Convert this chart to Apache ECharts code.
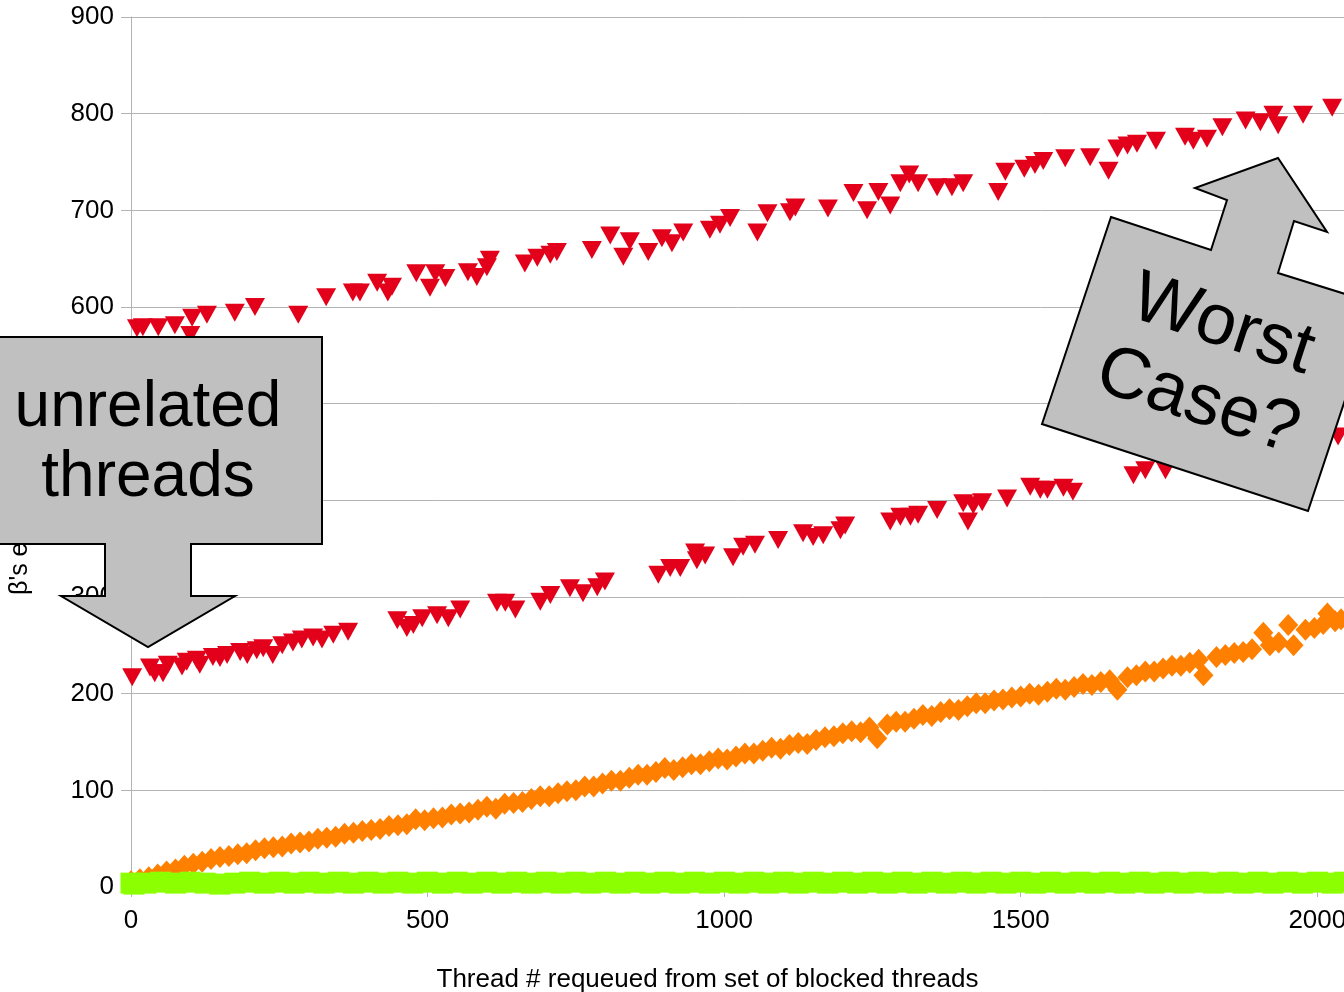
<!DOCTYPE html>
<html>
<head>
<meta charset="utf-8">
<script src="https://cdn.jsdelivr.net/npm/echarts@6/dist/echarts.min.js"></script>
<style>
  html, body { margin: 0; padding: 0; background: #fff; }
  #chart { width: 1344px; height: 992px; }
</style>
</head>
<body>
<div id="chart"></div>
<script>
// Axis settings
const xMin = 0, xMax = 2045, xStep = 500;
const yMin = 0, yMax = 900, yStep = 100;
const xTitle = 'Thread # requeued from set of blocked threads';
const yTitle = "β's execution time";

// Upper red band: [thread #, value]
const redUpper = [
  [10, 578], [20, 579], [46, 579], [74, 581], [100, 571], [103, 589], [128, 592], [175, 594],
  [209, 600], [282, 592], [329, 610], [374, 615], [386, 615], [415, 625], [433, 615],
  [440, 621], [481, 635], [504, 620], [513, 635], [530, 630], [568, 636], [583, 631],
  [600, 641], [605, 649], [664, 645], [685, 651], [707, 654], [718, 657], [777, 659],
  [808, 674], [830, 652], [841, 668], [872, 657], [895, 671], [912, 666], [931, 677],
  [976, 680], [993, 685], [1010, 692], [1056, 677], [1073, 697], [1111, 698], [1120, 703],
  [1175, 702], [1218, 718], [1241, 700], [1260, 719], [1280, 705], [1297, 728], [1312, 737],
  [1327, 728], [1359, 724], [1384, 724], [1403, 728], [1462, 719], [1474, 740], [1506, 743],
  [1524, 747], [1538, 751], [1575, 754], [1617, 755], [1648, 741], [1663, 764], [1680, 767],
  [1696, 769], [1728, 772], [1777, 776], [1791, 772], [1814, 774], [1840, 786], [1879, 793],
  [1904, 791], [1926, 799], [1934, 788], [1976, 799], [2025, 806]
];

// Lower red band: [thread #, value]
const redLower = [
  [2, 217], [32, 227], [40, 221], [54, 221], [62, 230], [86, 228], [94, 233], [111, 235],
  [116, 230], [138, 238], [150, 237], [162, 240], [184, 243], [196, 240], [212, 245],
  [223, 247], [239, 240], [255, 250], [273, 253], [288, 256], [307, 258], [322, 256],
  [341, 261], [366, 264], [449, 276], [465, 268], [476, 271], [491, 278], [516, 281],
  [535, 278], [555, 287], [617, 294], [631, 294], [648, 287], [690, 295], [707, 302],
  [740, 309], [762, 304], [786, 310], [799, 316], [889, 323], [909, 330], [926, 330],
  [951, 346], [954, 338], [968, 343], [1015, 341], [1032, 352], [1052, 354], [1091, 359],
  [1133, 366], [1150, 362], [1167, 364], [1196, 369], [1204, 374], [1280, 378], [1297, 383],
  [1314, 383], [1327, 385], [1359, 390], [1403, 397], [1411, 378], [1420, 395], [1435, 398],
  [1477, 402], [1516, 414], [1533, 411], [1545, 411], [1572, 413], [1588, 409], [1690, 426],
  [1710, 431], [1744, 431], [1836, 428], [2035, 466]
];

// Orange band: [thread #, value]
const orange = [
  [0, 6], [15, 8], [30, 10], [45, 13], [60, 16], [75, 18], [90, 22], [105, 24], [120, 26],
  [135, 29], [150, 31], [165, 32], [180, 34], [195, 35], [210, 38], [225, 40], [240, 41],
  [255, 42], [270, 45], [285, 46], [300, 47], [315, 50], [330, 51], [345, 52], [360, 55],
  [375, 56], [390, 58], [405, 59], [420, 60], [435, 63], [450, 64], [465, 65], [480, 70],
  [495, 69], [510, 71], [525, 72], [540, 75], [555, 76], [570, 77], [585, 80], [600, 83],
  [615, 81], [630, 86], [645, 87], [660, 88], [675, 91], [690, 94], [705, 94], [720, 97],
  [735, 99], [750, 100], [765, 104], [780, 104], [795, 107], [810, 110], [825, 110],
  [840, 113], [855, 116], [870, 116], [885, 119], [900, 123], [915, 121], [930, 124],
  [945, 127], [960, 127], [975, 130], [990, 133], [1005, 132], [1020, 135], [1035, 138],
  [1050, 138], [1065, 141], [1080, 144], [1095, 143], [1110, 147], [1125, 149], [1140, 148],
  [1155, 152], [1170, 155], [1185, 156], [1200, 159], [1215, 161], [1230, 160], [1245, 165],
  [1258, 154], [1275, 168], [1290, 171], [1305, 171], [1320, 174], [1335, 178], [1350, 177],
  [1365, 181], [1380, 184], [1395, 183], [1410, 187], [1425, 190], [1440, 190], [1455, 193],
  [1470, 194], [1485, 196], [1500, 197], [1515, 200], [1530, 199], [1545, 202], [1560, 205],
  [1575, 204], [1590, 207], [1605, 210], [1620, 209], [1635, 212], [1650, 214], [1663, 204],
  [1680, 217], [1695, 219], [1710, 223], [1725, 223], [1740, 226], [1755, 229], [1770, 229],
  [1785, 232], [1800, 235], [1808, 219], [1830, 238], [1845, 240], [1860, 242], [1875, 243],
  [1890, 246], [1909, 263], [1920, 250], [1935, 253], [1951, 271], [1960, 250], [1980, 266],
  [1995, 268], [2010, 272], [2017, 283], [2030, 275], [2040, 277]
];

// Green band: [thread #, value]
const green = [
  [0, 4], [5, 3], [25, 4], [50, 5], [75, 4], [100, 5], [125, 4], [150, 3], [175, 4], [200, 5],
  [225, 4], [250, 5], [275, 4], [300, 5], [325, 4], [350, 5], [375, 4], [400, 5], [425, 4],
  [450, 5], [475, 4], [500, 5], [525, 4], [550, 5], [575, 4], [600, 5], [625, 4], [650, 5],
  [675, 4], [700, 5], [725, 4], [750, 5], [775, 4], [800, 5], [825, 4], [850, 5], [875, 4],
  [900, 5], [925, 4], [950, 5], [975, 4], [1000, 5], [1025, 4], [1050, 5], [1075, 4],
  [1100, 5], [1125, 4], [1150, 5], [1175, 4], [1200, 5], [1225, 4], [1250, 5], [1275, 4],
  [1300, 5], [1325, 4], [1350, 5], [1375, 4], [1400, 5], [1425, 4], [1450, 5], [1475, 4],
  [1500, 5], [1525, 4], [1550, 5], [1575, 4], [1600, 5], [1625, 4], [1650, 5], [1675, 4],
  [1700, 5], [1725, 4], [1750, 5], [1775, 4], [1800, 5], [1825, 4], [1850, 5], [1875, 4],
  [1900, 5], [1925, 4], [1950, 5], [1975, 4], [2000, 5], [2025, 4], [2045, 5]
];

const FONT = '"Liberation Sans", Arial, sans-serif';
const RED = '#e2001a', ORANGE = '#ff8000', GREEN = '#8cff00';
const GRID_GRAY = '#b3b3b3';
const CALLOUT_FILL = '#c0c0c0';
const TICK_FONT = 26;

const chart = echarts.init(document.getElementById('chart'), null, { renderer: 'canvas' });

chart.setOption({
  animation: false,
  backgroundColor: '#ffffff',
  grid: { left: 131, right: 0, top: 17, bottom: 105, containLabel: false, outerBoundsMode: 'none' },
  xAxis: {
    type: 'value', min: xMin, max: xMax, interval: xStep,
    name: xTitle, nameLocation: 'middle', nameGap: 80,
    nameTextStyle: { fontFamily: FONT, fontSize: TICK_FONT, color: '#000', padding: [0, 60, 0, 0] },
    axisLine: { show: true, lineStyle: { color: GRID_GRAY, width: 1 } },
    axisTick: { show: true, length: 10, lineStyle: { color: GRID_GRAY } },
    axisLabel: {
      fontFamily: FONT, fontSize: TICK_FONT, color: '#000', margin: 21,
      formatter: v => (v % xStep === 0 ? String(v) : '')
    },
    splitLine: { show: false }
  },
  yAxis: {
    type: 'value', min: yMin, max: yMax, interval: yStep,
    axisLine: { show: true, lineStyle: { color: GRID_GRAY, width: 1 } },
    axisTick: { show: true, length: 10, lineStyle: { color: GRID_GRAY } },
    axisLabel: { fontFamily: FONT, fontSize: TICK_FONT, color: '#000', margin: 17 },
    splitLine: { show: true, lineStyle: { color: GRID_GRAY, width: 1 } }
  },
  series: [
    {
      type: 'scatter', data: orange, clip: false,
      symbol: 'diamond', symbolSize: [20, 22],
      itemStyle: { color: ORANGE, opacity: 1 }
    },
    {
      type: 'scatter', data: redUpper, clip: false,
      symbol: 'triangle', symbolRotate: 180, symbolSize: [20, 18],
      itemStyle: { color: RED, opacity: 1 }
    },
    {
      type: 'scatter', data: redLower, clip: false,
      symbol: 'triangle', symbolRotate: 180, symbolSize: [20, 18],
      itemStyle: { color: RED, opacity: 1 }
    },
    {
      type: 'scatter', data: green, clip: false,
      symbol: 'rect', symbolSize: [21, 21],
      itemStyle: { color: GREEN, opacity: 1 }
    }
  ],
  graphic: [
    // rotated y axis title
    {
      type: 'text', x: 20, y: 595, rotation: Math.PI / 2, z: 5,
      style: { text: yTitle, font: '25px ' + FONT, fill: '#000', align: 'left', verticalAlign: 'middle' }
    },
    // "unrelated threads" down-arrow callout
    {
      type: 'polygon', z: 10,
      shape: { points: [[-30, 337], [322, 337], [322, 544], [191, 544], [191, 596], [235, 596],
                        [148, 647], [61, 596], [105, 596], [105, 544], [-30, 544]] },
      style: { fill: CALLOUT_FILL, stroke: '#000', lineWidth: 2 }
    },
    {
      type: 'text', x: 148, y: 408, z: 11,
      style: { text: 'unrelated', font: '64px ' + FONT, fill: '#000', align: 'center', verticalAlign: 'middle' }
    },
    {
      type: 'text', x: 148, y: 478, z: 11,
      style: { text: 'threads', font: '64px ' + FONT, fill: '#000', align: 'center', verticalAlign: 'middle' }
    },
    // "Worst Case?" up-arrow callout, tilted
    {
      type: 'polygon', z: 10,
      shape: { points: [[1111, 217], [1211, 250], [1227, 200], [1195, 188], [1278, 158], [1327, 232],
                        [1294, 221], [1278, 273], [1377, 304], [1308, 511], [1042, 424]] },
      style: { fill: CALLOUT_FILL, stroke: '#000', lineWidth: 2 }
    },
    {
      type: 'text', x: 1210, y: 364, z: 11, rotation: -18.1 * Math.PI / 180,
      style: { text: 'Worst\nCase?', font: '72px ' + FONT, lineHeight: 80, fill: '#000', align: 'center', verticalAlign: 'middle' }
    }
  ]
});
</script>
</body>
</html>
